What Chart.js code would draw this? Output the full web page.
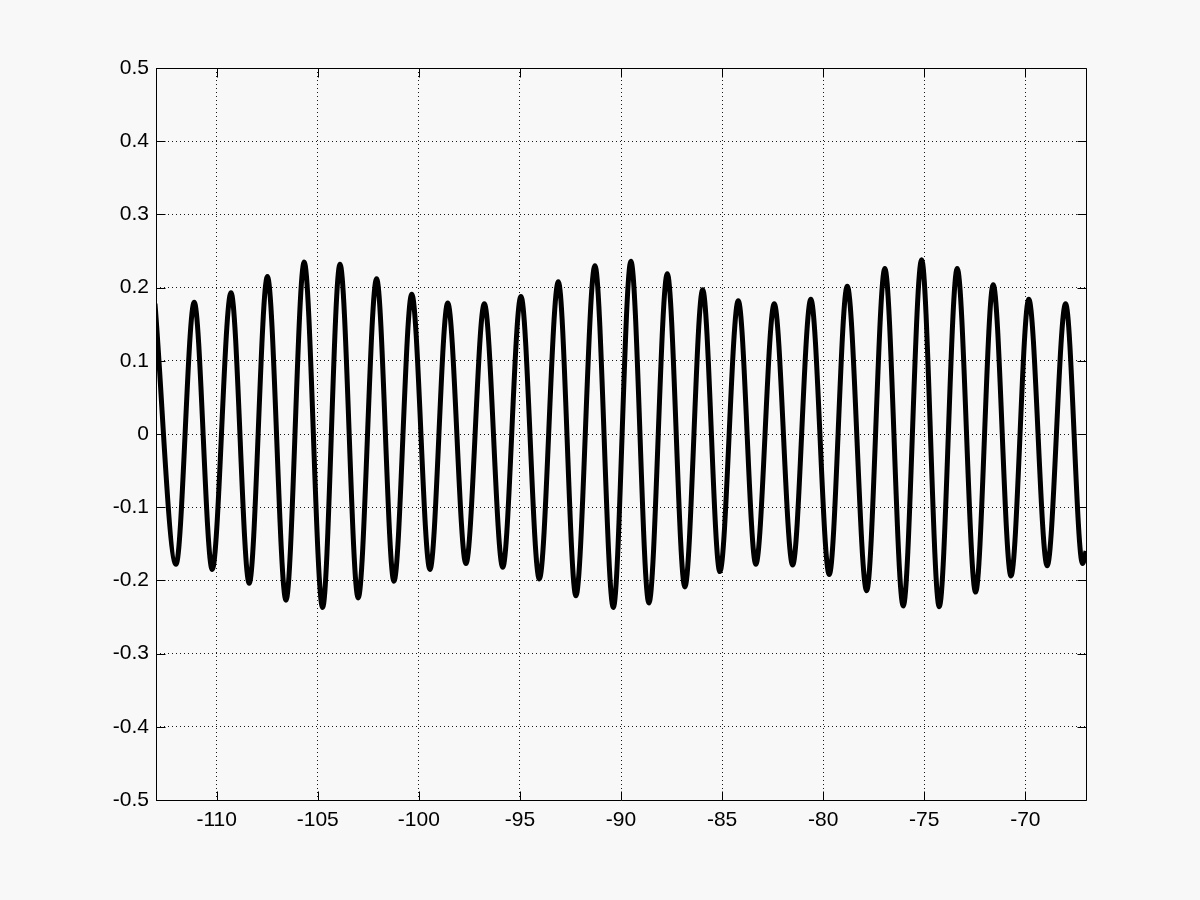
<!DOCTYPE html>
<html>
<head>
<meta charset="utf-8">
<script src="https://cdn.jsdelivr.net/npm/chart.js@4.4.1/dist/chart.umd.min.js"></script>
<style>
  html, body { margin: 0; padding: 0; background: #f8f8f8; }
  #wrap { width: 1200px; height: 900px; }
</style>
</head>
<body>
<div id="wrap"><canvas id="c" width="1200" height="900"></canvas></div>
<script>
// Peak / trough positions
const xValues = [-113.05, -112.01, -111.11, -110.22, -109.29, -108.39, -107.49, -106.57, -105.67, -104.76,
  -103.90, -103.00, -102.09, -101.23, -100.35, -99.45, -98.57, -97.67, -96.76, -95.85,
  -94.95, -94.04, -93.10, -92.23, -91.29, -90.38, -89.51, -88.62, -87.71, -86.84,
  -85.96, -85.11, -84.20, -83.33, -82.42, -81.51, -80.61, -79.70, -78.81, -77.85,
  -76.95, -76.04, -75.13, -74.26, -73.37, -72.46, -71.59, -70.71, -69.83, -68.92,
  -68.01, -67.17, -67.00];
const yValues = [0.178, -0.178, 0.180, -0.185, 0.193, -0.204, 0.215, -0.227, 0.235, -0.237,
  0.232, -0.224, 0.212, -0.201, 0.191, -0.185, 0.179, -0.177, 0.178, -0.182,
  0.188, -0.198, 0.208, -0.221, 0.230, -0.237, 0.236, -0.231, 0.219, -0.209,
  0.197, -0.188, 0.182, -0.178, 0.178, -0.179, 0.184, -0.192, 0.202, -0.214,
  0.226, -0.235, 0.238, -0.236, 0.226, -0.216, 0.204, -0.194, 0.184, -0.180,
  0.178, -0.177, -0.160];
const xTicks = [-110, -105, -100, -95, -90, -85, -80, -75, -70];
const xTickLabels = ['-110', '-105', '-100', '-95', '-90', '-85', '-80', '-75', '-70'];
const yTicks = [-0.5, -0.4, -0.3, -0.2, -0.1, 0, 0.1, 0.2, 0.3, 0.4, 0.5];
const yTickLabels = ['-0.5', '-0.4', '-0.3', '-0.2', '-0.1', '0', '0.1', '0.2', '0.3', '0.4', '0.5'];
const xRange = [-113, -67];
const yRange = [-0.5, 0.5];

const points = xValues.map((x, i) => ({ x: x, y: yValues[i] }));

const bgPlugin = {
  id: 'bg',
  beforeDraw(chart) {
    const ctx = chart.ctx;
    ctx.save();
    ctx.fillStyle = '#f8f8f8';
    ctx.fillRect(0, 0, chart.width, chart.height);
    ctx.restore();
  }
};

const boxPlugin = {
  id: 'box',
  afterDraw(chart) {
    const { ctx, chartArea: a, scales } = chart;
    const L = 9;
    ctx.save();
    ctx.setLineDash([]);
    ctx.strokeStyle = '#000';
    ctx.lineWidth = 1;
    const l = Math.round(a.left) + 0.5, r = Math.round(a.right) + 0.5;
    const t = Math.round(a.top) + 0.5, b = Math.round(a.bottom) + 0.5;
    ctx.beginPath();
    ctx.rect(l, t, r - l, b - t);
    ctx.stroke();
    ctx.beginPath();
    xTicks.forEach(v => {
      const px = Math.round(scales.x.getPixelForValue(v)) + 0.5;
      ctx.moveTo(px, b); ctx.lineTo(px, b - L);
      ctx.moveTo(px, t); ctx.lineTo(px, t + L);
    });
    yTicks.forEach(v => {
      const py = Math.round(scales.y.getPixelForValue(v)) + 0.5;
      ctx.moveTo(l, py); ctx.lineTo(l + L, py);
      ctx.moveTo(r, py); ctx.lineTo(r - L, py);
    });
    ctx.stroke();
    ctx.restore();
  }
};

Chart.defaults.font.family = '"Liberation Sans", Arial, Helvetica, sans-serif';
Chart.defaults.font.size = 21;
Chart.defaults.color = '#000';

new Chart(document.getElementById('c'), {
  type: 'line',
  data: {
    datasets: [{
      data: points,
      borderColor: '#000',
      borderWidth: 5,
      pointRadius: 0,
      fill: false,
      cubicInterpolationMode: 'monotone',
      clip: 0
    }]
  },
  plugins: [bgPlugin, boxPlugin],
  options: {
    responsive: false,
    animation: false,
    events: [],
    layout: { padding: { left: 0, top: 68, right: 114, bottom: 0 } },
    plugins: { legend: { display: false }, tooltip: { enabled: false } },
    scales: {
      x: {
        type: 'linear',
        min: xRange[0], max: xRange[1],
        afterBuildTicks: s => { s.ticks = xTicks.map(v => ({ value: v })); },
        afterFit: s => { s.height = 100; },
        ticks: {
          padding: 8,
          maxRotation: 0,
          autoSkip: false,
          callback: (v) => { const i = xTicks.indexOf(v); return i >= 0 ? xTickLabels[i] : ''; }
        },
        grid: { color: '#1a1a1a', lineWidth: 1, drawTicks: false },
        border: { display: false, dash: [1, 3] }
      },
      y: {
        type: 'linear',
        min: yRange[0], max: yRange[1],
        afterBuildTicks: s => { s.ticks = yTicks.map(v => ({ value: v })); },
        afterFit: s => { s.width = 156; },
        ticks: {
          padding: 7,
          autoSkip: false,
          callback: (v) => { const i = yTicks.findIndex(t => Math.abs(t - v) < 1e-9); return i >= 0 ? yTickLabels[i] : ''; }
        },
        grid: { color: '#1a1a1a', lineWidth: 1, drawTicks: false },
        border: { display: false, dash: [1, 3] }
      }
    }
  }
});
</script>
</body>
</html>
